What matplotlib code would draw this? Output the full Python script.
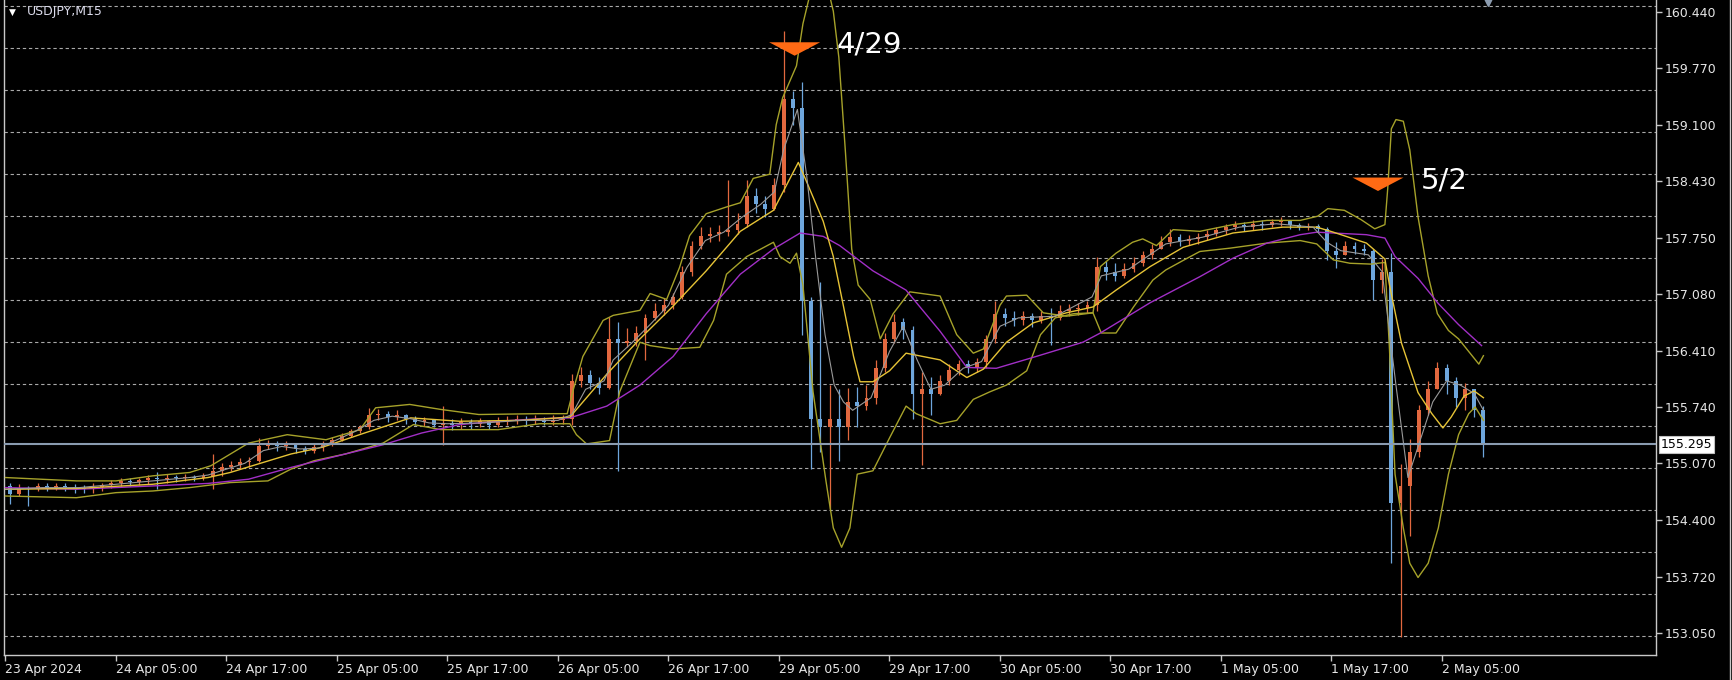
import numpy as np
import matplotlib.pyplot as plt
from matplotlib.lines import Line2D
import matplotlib.transforms as mtransforms

# USDJPY, hourly bars (x = trading hours from 23 Apr 17:00)
first_open = 154.80
closes = [
    154.70, 154.78, 154.76, 154.80, 154.78, 154.80, 154.79, 154.77, 154.76, 154.79,
    154.81, 154.84, 154.86, 154.85, 154.87, 154.90, 154.88, 154.90, 154.89, 154.91,
    154.90, 154.92, 154.98, 155.02, 155.05, 155.08, 155.10, 155.28, 155.30, 155.27,
    155.29, 155.24, 155.22, 155.26, 155.30, 155.35, 155.40, 155.45, 155.50, 155.64,
    155.66, 155.62, 155.65, 155.60, 155.56, 155.58, 155.53, 155.55, 155.52, 155.56,
    155.54, 155.57, 155.53, 155.56, 155.58, 155.60, 155.57, 155.59, 155.56, 155.58,
    155.60, 156.05, 156.12, 156.02, 155.97, 156.55, 156.50, 156.52, 156.62, 156.80,
    156.88, 156.95, 157.05, 157.35, 157.65, 157.78, 157.80, 157.82, 157.85, 157.92,
    158.25, 158.15, 158.10, 158.38, 159.40, 159.30, 157.00, 155.60, 155.50, 155.60,
    155.50, 155.80, 155.75, 155.85, 156.20, 156.55, 156.75, 156.65, 155.90, 155.95,
    155.90, 156.05, 156.18, 156.25, 156.20, 156.28, 156.55, 156.85, 156.80, 156.78,
    156.82, 156.78, 156.82, 156.80, 156.88, 156.90, 156.92, 156.95, 157.40, 157.35,
    157.30, 157.38, 157.45, 157.55, 157.62, 157.70, 157.76, 157.72, 157.74, 157.76,
    157.80, 157.84, 157.88, 157.90, 157.88, 157.92, 157.90, 157.94, 157.95, 157.90,
    157.88, 157.89, 157.86, 157.60, 157.55, 157.65, 157.62, 157.60, 157.25, 157.35,
    154.60, 154.80, 155.20, 155.70, 155.95, 156.20, 156.05, 155.85, 155.95, 155.70,
    155.295,
]
highs = [
    154.84, 154.82, 154.80, 154.83, 154.83, 154.84, 154.83, 154.82, 154.81, 154.83,
    154.84, 154.87, 154.89, 154.89, 154.90, 154.93, 154.96, 154.94, 154.93, 154.94,
    154.93, 154.95, 155.18, 155.07, 155.10, 155.13, 155.14, 155.37, 155.35, 155.34,
    155.34, 155.30, 155.28, 155.30, 155.33, 155.38, 155.43, 155.48, 155.53, 155.73,
    155.71, 155.69, 155.70, 155.66, 155.63, 155.62, 155.60, 155.75, 155.60, 155.61,
    155.60, 155.61, 155.59, 155.62, 155.63, 155.65, 155.63, 155.64, 155.62, 155.64,
    155.65, 156.13, 156.21, 156.18, 156.10, 156.81, 156.75, 156.68, 156.70, 156.85,
    156.98, 157.04, 157.10, 157.42, 157.72, 157.88, 157.88, 157.90, 158.44, 158.05,
    158.44, 158.34, 158.25, 158.46, 160.21, 159.50, 159.61, 157.05, 157.23, 156.00,
    155.95, 155.96, 155.98, 156.00, 156.30, 156.62, 156.85, 156.80, 156.70, 156.15,
    156.10, 156.12, 156.25, 156.30, 156.30, 156.32, 156.60, 157.00, 156.92, 156.88,
    156.88, 156.86, 156.88, 156.92, 156.95, 156.96, 156.98, 157.00, 157.52, 157.48,
    157.45, 157.45, 157.52, 157.60, 157.68, 157.78, 157.86, 157.80, 157.79, 157.81,
    157.85, 157.88, 157.92, 157.95, 157.94, 157.96, 157.96, 157.98, 158.00, 157.97,
    157.93, 157.93, 157.92, 157.88, 157.70, 157.72, 157.70, 157.68, 157.62, 157.50,
    157.57, 155.06, 155.36, 155.76, 156.05, 156.27, 156.25, 156.10, 156.02, 155.95,
    155.75,
]
lows = [
    154.58, 154.68, 154.56, 154.74, 154.74, 154.75, 154.74, 154.72, 154.71, 154.72,
    154.74, 154.78, 154.80, 154.80, 154.81, 154.82, 154.76, 154.84, 154.85, 154.86,
    154.86, 154.87, 154.76, 154.92, 154.98, 155.00, 155.02, 155.08, 155.24, 155.22,
    155.23, 155.19, 155.18, 155.19, 155.22, 155.28, 155.33, 155.38, 155.43, 155.48,
    155.58, 155.56, 155.58, 155.54, 155.52, 155.51, 155.50, 155.29, 155.47, 155.48,
    155.48, 155.50, 155.48, 155.50, 155.53, 155.54, 155.53, 155.54, 155.53, 155.53,
    155.54, 155.53, 155.98, 155.95, 155.90, 155.95, 154.98, 156.45, 156.47, 156.30,
    156.78, 156.84, 156.90, 157.02, 157.30, 157.62, 157.70, 157.72, 157.78, 157.80,
    157.88, 158.05, 158.00, 158.08, 158.30, 159.10, 156.60, 155.00, 155.20, 154.52,
    155.10, 155.35, 155.50, 155.70, 155.78, 156.15, 156.50, 156.55, 155.60, 155.05,
    155.65, 155.88, 156.00, 156.12, 156.14, 156.16, 156.20, 156.50, 156.70, 156.70,
    156.72, 156.69, 156.74, 156.48, 156.78, 156.82, 156.84, 156.86, 156.88, 157.25,
    157.24, 157.28, 157.35, 157.42, 157.50, 157.62, 157.66, 157.65, 157.67, 157.68,
    157.73, 157.78, 157.80, 157.84, 157.83, 157.85, 157.85, 157.88, 157.89, 157.86,
    157.84, 157.84, 157.82, 157.49, 157.39, 157.55, 157.56, 157.55, 157.01, 157.10,
    153.88, 153.00, 154.20, 155.15, 155.65, 155.95, 155.90, 155.74, 155.70, 155.62,
    155.15,
]

# Bollinger bands (upper / lower), read as (hour, price)
bb_upper_h = [0, 7.7, 12, 16, 20, 22.3, 26.4, 30.6, 34.8, 38.5, 40.2, 43.9, 47.3, 51.4, 58, 61,
              61.7, 62.7, 64.9, 66, 68.9, 70, 71.8, 73.2, 74.3, 76.1, 78.3, 79.8, 81.2, 83,
              83.7, 84.4, 85.9, 86.6, 87.3, 88, 88.8, 89.4, 89.9, 90.5, 91.2, 91.9, 92.6,
              93.9, 95, 96.4, 98.2, 101.5, 103.3, 105.1, 106.2, 108, 108.7, 110.9, 112.7,
              115.2, 118.1, 118.9, 120.6, 122.4, 123.5, 125, 126.8, 129.7, 133.3, 137,
              140.6, 142.5, 143.6, 145.4, 147.2, 148.7, 149.8, 150.1, 150.5, 151, 151.8,
              152.5, 153.4, 154.5, 155.5, 156.7, 157.8, 158.9, 160, 160.5]
bb_upper_p = [154.90, 154.86, 154.86, 154.92, 154.96, 155.04, 155.31, 155.41, 155.35, 155.47,
              155.73, 155.77, 155.71, 155.65, 155.66, 155.66, 155.96, 156.34, 156.77, 156.83,
              156.89, 157.09, 157.02, 157.40, 157.78, 158.04, 158.12, 158.17, 158.46, 158.51,
              159.10, 159.42, 159.80, 160.30, 160.62, 160.70, 160.64, 160.68, 160.45, 159.90,
              158.80, 157.62, 157.19, 157.02, 156.55, 156.85, 157.11, 157.06, 156.60, 156.38,
              156.43, 156.95, 157.06, 157.07, 156.86, 156.82, 156.86, 157.41, 157.57, 157.70,
              157.74, 157.66, 157.85, 157.83, 157.91, 157.96, 157.96, 158.01, 158.10, 158.08,
              157.97, 157.86, 157.91, 158.33, 159.05, 159.16, 159.14, 158.80, 158.00, 157.30,
              156.85, 156.65, 156.55, 156.40, 156.25, 156.35]
bb_lower_h = [0, 7.7, 12, 16, 20, 24.4, 28.5, 31, 33.5, 36.9, 41, 44.3, 47.3, 53.5, 58, 61.3,
              62, 63.1, 65.6, 66.7, 68.9, 70, 72.5, 75.4, 76.9, 78.3, 80.5, 83.4, 84.1, 85.2,
              85.9, 86.6, 87.7, 89.1, 89.9, 90.8, 91.7, 92.5, 94.2, 96, 97.8, 98.9, 101.5,
              103.3, 105.1, 106.9, 108.7, 110.9, 112.4, 114, 116, 118.1, 119, 120.6, 122.5,
              124.6, 126, 128, 129.7, 133, 137, 140.6, 142.4, 144.2, 146, 148.3, 149.8,
              150.3, 150.9, 151.8, 152.5, 153.4, 154.5, 155.6, 156.7, 157.8, 158.9, 159.6,
              160.5]
bb_lower_p = [154.68, 154.66, 154.72, 154.74, 154.78, 154.84, 154.86, 155.00, 155.10, 155.18,
              155.31, 155.53, 155.47, 155.47, 155.54, 155.54, 155.41, 155.30, 155.34, 155.92,
              156.51, 156.47, 156.43, 156.45, 156.77, 157.32, 157.53, 157.70, 157.53, 157.45,
              157.57, 157.19, 155.92, 154.86, 154.30, 154.07, 154.30, 154.94, 154.98, 155.37,
              155.75, 155.66, 155.54, 155.58, 155.83, 155.92, 156.00, 156.17, 156.60, 156.80,
              156.85, 156.86, 156.62, 156.62, 156.93, 157.25, 157.37, 157.49, 157.59, 157.63,
              157.69, 157.72, 157.68, 157.49, 157.45, 157.44, 157.46, 156.42, 154.94, 154.30,
              153.88, 153.71, 153.88, 154.30, 154.94, 155.41, 155.66, 155.74, 155.58]

# moving averages, read as (hour, price)
ma_yellow_h = [0, 7.7, 16, 22, 24.4, 31, 34.4, 39, 44, 49.3, 56, 61.3, 65.3, 68.9, 72.5, 76.1,
               79.8, 83.4, 86.1, 87, 88.8, 89.9, 91, 92.1, 92.8, 94.2, 96, 97.8, 101.5, 104.4,
               106.2, 108.7, 111.6, 115.2, 118.1, 120.6, 124.3, 127.9, 133.3, 138.7, 142.4,
               144.2, 147.8, 149.8, 150.3, 151.6, 153.4, 154.9, 156.1, 157, 158.4, 159.5, 160.5]
ma_yellow_p = [154.76, 154.77, 154.82, 154.90, 154.96, 155.18, 155.26, 155.43, 155.61, 155.57,
               155.58, 155.62, 156.13, 156.55, 156.94, 157.36, 157.83, 158.08, 158.65, 158.42,
               157.95, 157.53, 156.94, 156.34, 156.04, 156.04, 156.17, 156.38, 156.30, 156.09,
               156.19, 156.51, 156.74, 156.86, 156.93, 157.13, 157.41, 157.64, 157.81, 157.88,
               157.88, 157.82, 157.69, 157.50, 157.19, 156.50, 155.91, 155.66, 155.49, 155.62,
               155.87, 155.93, 155.85]
ma_purple_h = [0, 7.7, 16, 22, 26.4, 31, 36.9, 41, 45.2, 49.3, 53.5, 58, 61.3, 65.3, 68.9, 72.5,
               76.1, 79.8, 83.4, 86.3, 88.8, 90.6, 94.2, 97.8, 101.5, 104.4, 107.6, 111.6, 117,
               118.9, 124.3, 129.7, 133.3, 137, 140.6, 142.4, 144.2, 147.8, 149.8, 150.9,
               153.4, 155.6, 157.8, 160.3]
ma_purple_p = [154.78, 154.76, 154.80, 154.83, 154.88, 155.02, 155.18, 155.29, 155.43, 155.53,
               155.57, 155.60, 155.61, 155.75, 156.00, 156.34, 156.85, 157.32, 157.62, 157.81,
               157.77, 157.66, 157.36, 157.13, 156.64, 156.21, 156.20, 156.33, 156.51, 156.62,
               156.98, 157.29, 157.51, 157.69, 157.79, 157.82, 157.81, 157.79, 157.75, 157.53,
               157.27, 156.97, 156.72, 156.47]
ma_gray_h = [0, 4, 8, 12, 16, 20, 22, 24, 26, 28, 30, 32, 34, 36, 38, 40, 42, 44, 46, 48, 52,
             56, 60, 61.5, 63, 65, 66, 68, 70, 72, 74, 76, 78, 80, 82, 83.5, 84.5, 86, 87, 88,
             89, 90, 91, 92, 94, 96, 97.5, 99, 100.5, 102, 104, 106, 108, 110, 114, 118, 119,
             122, 126, 130, 134, 138, 142, 143.5, 145, 148, 149.5, 151, 152.3, 153.5, 155,
             156.5, 158, 159.5, 160.5]
ma_gray_p = [154.76, 154.78, 154.78, 154.82, 154.86, 154.90, 154.93, 155.00, 155.07, 155.22,
             155.27, 155.24, 155.25, 155.35, 155.45, 155.58, 155.63, 155.60, 155.55, 155.54,
             155.55, 155.58, 155.58, 155.65, 155.95, 156.05, 156.30, 156.50, 156.72, 156.95,
             157.40, 157.72, 157.82, 158.00, 158.15, 158.30, 158.80, 159.28, 158.50, 157.50,
             156.60, 156.00, 155.80, 155.70, 155.85, 156.40, 156.70, 156.30, 155.95, 156.00,
             156.20, 156.28, 156.70, 156.80, 156.82, 157.05, 157.30, 157.38, 157.68, 157.76,
             157.88, 157.92, 157.88, 157.70, 157.60, 157.55, 157.35, 156.00, 154.90, 155.30,
             155.80, 156.05, 156.00, 155.90, 155.70]

current_price = 155.295
price_labels = [160.440, 159.770, 159.100, 158.430, 157.750, 157.080, 156.410,
                155.740, 155.070, 154.400, 153.720, 153.050]
time_ticks = [0, 12, 24, 36, 48, 60, 72, 84, 96, 108, 120, 132, 144, 156]
time_labels = ['23 Apr 2024', '24 Apr 05:00', '24 Apr 17:00', '25 Apr 05:00', '25 Apr 17:00',
               '26 Apr 05:00', '26 Apr 17:00', '29 Apr 05:00', '29 Apr 17:00', '30 Apr 05:00',
               '30 Apr 17:00', '1 May 05:00', '1 May 17:00', '2 May 05:00']
marks = [('4/29', 85.7, 160.08), ('5/2', 149.05, 158.47)]

up_col = '#e2683f'    # rising bars are orange in this terminal theme
down_col = '#6ea6dc'  # falling bars are blue
axis_col = '#c8c8c8'
text_col = '#e6e6e6'

fig = plt.figure(figsize=(17.32, 6.8), dpi=100, facecolor='black')
ax = fig.add_axes([4 / 1732, 1 - 655 / 680, 1652 / 1732, 655 / 680])
ax.set_facecolor('black')
ax.set_xlim(-0.16, 179.24)
ax.set_ylim(152.788, 160.583)

# grid (MT4 style dashed lines)
for lev in 160.511 - 0.4998 * np.arange(16):
    ax.axhline(lev, color='#a8a8a8', lw=0.8, ls=(0, (3, 2.5)), zorder=0)

# bars
opens = np.r_[first_open, closes[:-1]]
c = np.array(closes)
xs = np.arange(len(c)) + 0.5
cols = [up_col if cc >= oo else down_col for oo, cc in zip(opens, c)]
ax.vlines(xs, lows, highs, colors=cols, lw=0.9, zorder=2)
body_lo = np.minimum(opens, c)
body_h = np.maximum(np.abs(c - opens), 0.012)
ax.bar(xs, body_h, bottom=body_lo, width=0.42, color=cols, linewidth=0, zorder=2)

# indicators
ax.plot(bb_upper_h, bb_upper_p, color='#a6a22a', lw=1.0, zorder=3)
ax.plot(bb_lower_h, bb_lower_p, color='#a6a22a', lw=1.0, zorder=3)
ax.plot(ma_purple_h, ma_purple_p, color='#a12fc6', lw=1.0, zorder=3)
ax.plot(ma_yellow_h, ma_yellow_p, color='#e6c336', lw=1.0, zorder=3)
ax.plot(ma_gray_h, ma_gray_p, color='#9a9a9a', lw=0.8, zorder=3)

# current price line + label
ax.axhline(current_price, color='#8a9bb0', lw=1.5, zorder=4)
trans = mtransforms.blended_transform_factory(ax.transAxes, ax.transData)
ax.text(1.003, current_price, '%.3f' % current_price, transform=trans, ha='left', va='center',
        fontsize=9, color='black', clip_on=False,
        bbox=dict(boxstyle='square,pad=0.15', fc='white', ec='#c0c0c0', lw=0.8))

# orange markers with date text
for label, hc, ptop in marks:
    ax.fill([hc - 2.77, hc + 2.77, hc], [ptop, ptop, ptop - 0.16], color='#ff6a14',
            lw=0, zorder=5)
    ax.text(hc + 4.6, ptop - 0.03, label, color='white', fontsize=21, va='center',
            ha='left', zorder=6)

# small shift marker at top right
ax.plot([161.0], [1.0], marker='v', ms=9, color='#8c9cb0',
        transform=mtransforms.blended_transform_factory(ax.transData, ax.transAxes),
        clip_on=False, zorder=6)

# axes styling
for s in ['left', 'bottom', 'right']:
    ax.spines[s].set_color(axis_col)
    ax.spines[s].set_linewidth(1.0)
ax.spines['top'].set_visible(False)
ax.yaxis.tick_right()
ax.set_yticks(price_labels)
ax.set_yticklabels(['%.3f' % v for v in price_labels])
ax.set_xticks(time_ticks)
ax.set_xticklabels(time_labels)
ax.tick_params(axis='both', colors=axis_col, labelcolor=text_col, labelsize=9,
               length=4, width=1, pad=2)
for t in ax.get_xticklabels():
    t.set_ha('left')

fig.text(27 / 1732, 1 - 12 / 680, 'USDJPY,M15', color='#dcdcec', fontsize=9, va='center')
fig.text(9 / 1732, 1 - 12 / 680, '\u25bc', color='white', fontsize=6.5, va='center')
fig.add_artist(Line2D([1730 / 1732] * 2, [0, 1], color='#c8c8c8', lw=1))

fig.savefig('out.png', dpi=100, facecolor='black')
